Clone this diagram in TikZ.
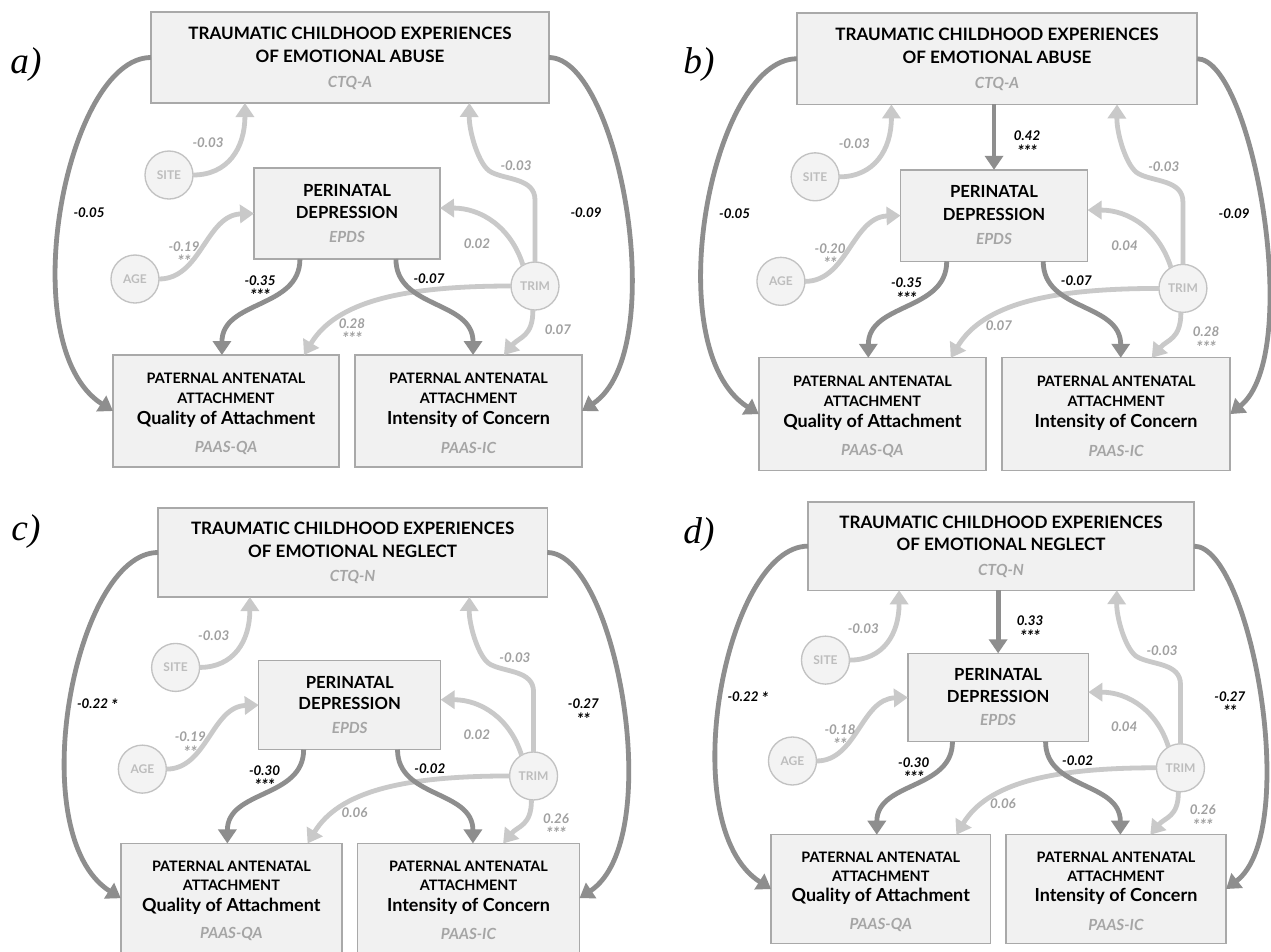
\documentclass[tikz,border=0pt]{standalone}
\usepackage{fontspec}
\setmainfont{Lato}
\newfontfamily\lblfont{Liberation Serif}
\usetikzlibrary{arrows.meta,calc}
\definecolor{boxfill}{HTML}{F1F1F1}
\definecolor{boxline}{HTML}{A9A9A9}
\definecolor{darkarr}{HTML}{8E8E8E}
\definecolor{lightarr}{HTML}{C9C9C9}
\definecolor{circfill}{HTML}{F3F3F3}
\definecolor{circline}{HTML}{C2C2C2}
\definecolor{circtext}{HTML}{BDBDBD}
\definecolor{graytext}{HTML}{A5A5A5}
\definecolor{labgray}{HTML}{A0A0A0}
\newcommand\sstar[1]{\raisebox{-2pt}{\fontsize{12.5}{12.5}\selectfont #1}}
\tikzset{
 box/.style={rectangle, draw=boxline, fill=boxfill, line width=1.1pt, inner sep=0pt, outer sep=0pt},
 circ/.style={circle, draw=circline, fill=circfill, line width=1pt, minimum size=36pt, inner sep=0pt, outer sep=0pt, font=\fontsize{9}{10}\selectfont\bfseries, text=circtext},
 ttl/.style={inner sep=0pt, font=\fontsize{12.8}{14}\selectfont\bfseries},
 ttlb/.style={inner sep=0pt, font=\fontsize{12.5}{14}\selectfont\bfseries},
 capt/.style={inner sep=0pt, font=\fontsize{10.8}{12}\selectfont\bfseries},
 bigt/.style={inner sep=0pt, font=\fontsize{13.5}{15}\selectfont\bfseries},
 subt/.style={inner sep=0pt, font=\fontsize{11.5}{13}\selectfont\bfseries\itshape, text=graytext},
 darr/.style={draw=darkarr, line width=3.6pt, -{Triangle[length=10.5pt,width=13.5pt]}},
 larr/.style={draw=lightarr, line width=3.6pt, -{Triangle[length=10.5pt,width=13.5pt]}},
 blab/.style={inner sep=0pt, anchor=north, align=center, font=\fontsize{10}{10.5}\selectfont\bfseries\itshape, text=black},
 glab/.style={blab, text=labgray},
 plab/.style={inner sep=0pt, font=\lblfont\itshape\fontsize{28}{30}\selectfont},
}
\newdimen\pxs
\newcommand\drawpanel[3]{%
\begin{scope}[shift={#2},scale=#3]
\pgfmathsetlength\pxs{0.75pt*#3}%
% boxes
\node[box, minimum width=398*\pxs, minimum height=91*\pxs] (#1top) at (199,45.5) {};
\node[box, minimum width=186*\pxs, minimum height=91*\pxs] (#1per) at (196,201.5) {};
\node[box, minimum width=226*\pxs, minimum height=112*\pxs] (#1qa) at (75,399) {};
\node[box, minimum width=227*\pxs, minimum height=112*\pxs] (#1ic) at (317.5,399) {};
\node[circ] (#1site) at (18,163) {SITE};
\node[circ] (#1age) at (-16,267) {AGE};
\node[circ] (#1trim) at (384,274) {TRIM};
% texts
\node[ttl] (#1t1) at (199,21) {TRAUMATIC CHILDHOOD EXPERIENCES};
\node[ttl] (#1t2) at (199,44) {OF EMOTIONAL \cWord};
\node[subt] (#1t3) at (199,71) {\cCtq};
\node[ttlb] (#1p1) at (196,178) {PERINATAL};
\node[ttlb] (#1p2) at (196,200) {DEPRESSION};
\node[subt] (#1p3) at (196,225) {EPDS};
\node[capt] (#1q1) at (75,366) {PATERNAL ANTENATAL};
\node[capt] (#1q2) at (75,386) {ATTACHMENT};
\node[bigt] (#1q3) at (75,407) {Quality of Attachment};
\node[subt] (#1q4) at (75,436) {PAAS-QA};
\node[capt] (#1i1) at (317.5,366) {PATERNAL ANTENATAL};
\node[capt] (#1i2) at (317.5,386) {ATTACHMENT};
\node[bigt] (#1i3) at (317.5,407) {Intensity of Concern};
\node[subt] (#1i4) at (317.5,436) {PAAS-IC};
% light arrows
\draw[larr] (#1site.east) .. controls +(35,0) and +(0,45) .. ($(#1top.south west)!0.236!(#1top.south east)$);
\draw[larr] (#1age.east) .. controls (50,267) and (55,203) .. (#1per.west);
\draw[larr] (#1trim.north) -- (384,188) .. controls (384,166) and (355,168) .. (340,160) .. controls (328,154) and (318,120) .. ($(#1top.south west)!0.8!(#1top.south east)$);
\draw[larr] (#1trim.120) .. controls (360,215) and (330,196) .. ($(#1per.north east)!0.44!(#1per.south east)$);
\draw[larr] (#1trim.west) .. controls (250,274) and (185,290) .. ($(#1qa.north west)!0.845!(#1qa.north east)$);
\draw[larr] (#1trim.-95) .. controls (382,325) and (368,325) .. ($(#1ic.north west)!0.656!(#1ic.north east)$);
% dark arrows
\draw[darr] (#1top.west) .. controls +(-85,0) and +(-102,-65) .. (#1qa.west);
\draw[darr] (#1top.east) .. controls +(\rcA,0) and +(\rcB,-60) .. (#1ic.east);
\draw[darr] ($(#1per.south west)!0.247!(#1per.south east)$) .. controls +(0,50) and +(0,-55) .. ($(#1qa.north west)!0.482!(#1qa.north east)$);
\draw[darr] ($(#1per.south west)!0.763!(#1per.south east)$) .. controls +(0,50) and +(0,-55) .. ($(#1ic.north west)!0.52!(#1ic.north east)$);
\ifx\cV\empty\else
\draw[darr] (#1per.north |- #1top.south) -- (#1per.north);
\node[blab] (#1lV) at (229,117) {\cV};
\fi
% coefficient labels
\node[blab] (#1lL) at (-62,195) {\cL};
\node[blab] (#1lR) at (435,195) {\cR};
\node[glab] (#1lS) at (57,125) {-0.03};
\node[glab] (#1lT) at (365,148) {-0.03};
\node[glab] (#1lA) at (33,229) {\cA};
\node[glab] (#1lP) at (326,226) {\cP};
\node[blab] (#1lPQ) at (109,263) {\cPQ};
\node[blab] (#1lPI) at (278,261) {\cPI};
\node[glab] (#1lTQ) at (201,306) {\cTQ};
\node[glab] (#1lTI) at (407,312) {\cTI};
\end{scope}}
\begin{document}
\begin{tikzpicture}[x=0.75pt,y=-0.75pt]
\useasboundingbox (0,0) rectangle (1271,951);
\clip (0,0) rectangle (1271,951);
\fill[white] (0,0) rectangle (1271,951);
% panel a
\def\cWord{ABUSE}\def\cCtq{CTQ-A}\def\cL{-0.05}\def\cR{-0.09}\def\cV{}%
\def\cA{-0.19\\\sstar{**}}\def\cP{0.02}\def\cPQ{-0.35\\\sstar{***}}\def\cPI{-0.07}\def\cTQ{0.28\\\sstar{***}}\def\cTI{0.07}%
\def\rcA{70}\def\rcB{90}%
\drawpanel{a}{(151,12)}{1}
% panel b
\def\cV{0.42\\\sstar{***}}\def\cA{-0.20\\\sstar{**}}\def\cP{0.04}\def\cTQ{0.07}\def\cTI{0.28\\\sstar{***}}%
\def\rcA{55}\def\rcB{74}%
\drawpanel{b}{(797,13)}{1.005}
% panel c
\def\cWord{NEGLECT}\def\cCtq{CTQ-N}\def\cL{-0.22 \sstar{*}}\def\cR{-0.27\\\sstar{**}}\def\cV{}%
\def\cA{-0.19\\\sstar{**}}\def\cP{0.02}\def\cPQ{-0.30\\\sstar{***}}\def\cPI{-0.02}\def\cTQ{0.06}\def\cTI{0.26\\\sstar{***}}%
\def\rcA{70}\def\rcB{90}%
\drawpanel{c}{(158,508)}{0.978}
% panel d
\def\cV{0.33\\\sstar{***}}\def\cA{-0.18\\\sstar{**}}\def\cP{0.04}%
\def\rcA{58}\def\rcB{78}%
\drawpanel{d}{(808,502)}{0.97}
% panel letters
\node[plab] (la) at (26,65) {a)};
\node[plab] (lb) at (699,65) {b)};
\node[plab] (lc) at (26,532) {c)};
\node[plab] (ld) at (699,535) {d)};
\end{tikzpicture}
\end{document}
